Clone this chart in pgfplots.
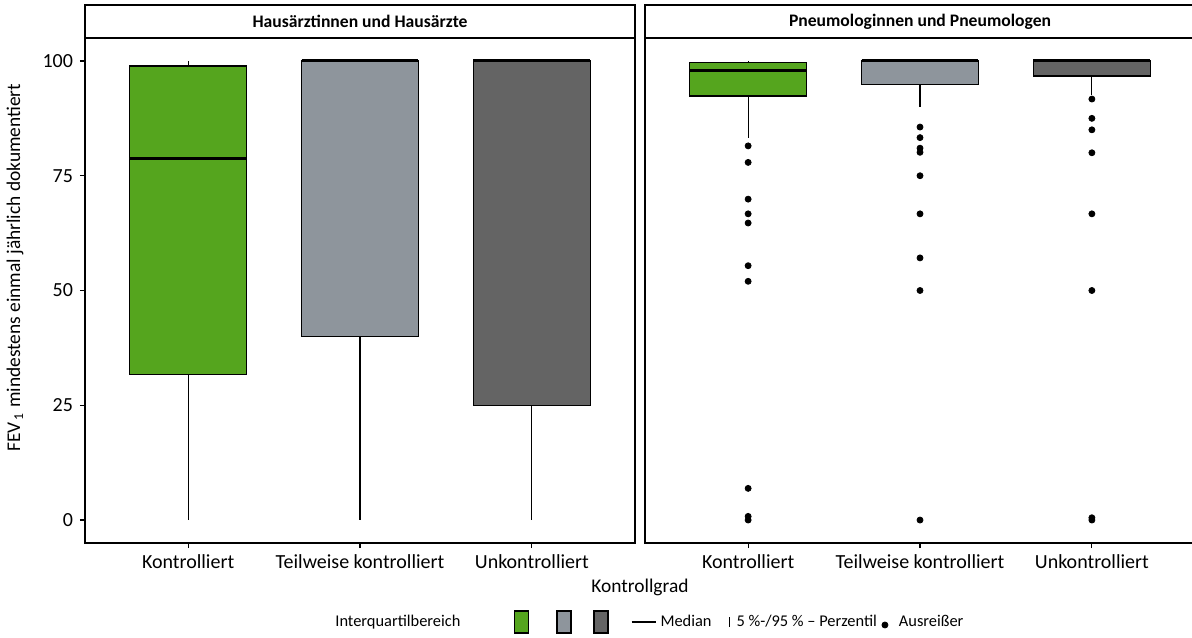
\documentclass[border=0pt]{standalone}
\usepackage{fontspec}
\setmainfont{Carlito}
\usepackage{pgfplots}
\pgfplotsset{compat=1.18}
\usepgfplotslibrary{statistics}
\definecolor{cgreen}{RGB}{85,165,30}
\definecolor{cgrey}{RGB}{142,149,156}
\definecolor{cdark}{RGB}{100,100,100}

\pgfplotsset{
 panel/.style={
  scale only axis, width=275pt, height=252.5pt,
  xmin=0.4, xmax=3.6, ymin=-5, ymax=105,
  xtick={1,2,3}, xticklabels={Kontrolliert, Teilweise kontrolliert, Unkontrolliert},
  ytick={0,25,50,75,100},
  tick pos=left, tick align=outside, major tick length=2.5pt,
  tick style={line width=0.6pt, black},
  axis line style={line width=0.9pt},
  ticklabel style={font=\fontsize{10}{11}\selectfont},
  /pgf/number format/assume math mode=true,
  clip=false,
  boxplot/draw direction=y,
  boxplot/box extend=0.68,
  boxplot/whisker extend=0,
  boxplot/every box/.style={draw=black, line width=0.7pt},
  boxplot/every whisker/.style={line width=0.6pt},
  boxplot/every median/.style={line width=1.5pt},
 },
 outl/.style={mark=*, mark size=1.5pt, mark options={fill=black, draw=black, solid}},
}

\begin{document}
\begin{tikzpicture}
\useasboundingbox (0,0) rectangle (596pt,318.5pt);

% ---------- left panel ----------
\begin{axis}[panel, at={(42.5pt,47pt)}, anchor=south west,
  ylabel={FEV\textsubscript{\,1} mindestens einmal jährlich dokumentiert},
  ylabel style={at={(rel axis cs:-0.127,0.545)}, anchor=center, font=\fontsize{9.7}{10}\selectfont},
  xlabel={Kontrollgrad},
  xlabel style={at={(rel axis cs:1.009,-0.087)}, anchor=center, font=\fontsize{9.7}{10}\selectfont},
  legend columns=-1,
  legend style={at={(axis description cs:0.4545,-0.1564)}, anchor=west, draw=none, fill=none,
    inner sep=0pt, column sep=0pt, font=\fontsize{8.2}{9}\selectfont,
    nodes={inner xsep=0pt, inner ysep=1pt}},
]
\addlegendimage{legend image code/.code={}}
\addlegendentry{Interquartilbereich}
\addlegendimage{legend image code/.code={\path[draw=none,fill=none] (0pt,-5.5pt) rectangle (34pt,5.5pt);
   \draw[fill=cgreen, line width=0.7pt] (27pt,-5.5pt) rectangle (34pt,5.5pt);}}
\addlegendentry{}
\addlegendimage{legend image code/.code={\path[draw=none,fill=none] (0pt,-5.5pt) rectangle (20pt,5.5pt);
   \draw[fill=cgrey, line width=0.7pt] (13pt,-5.5pt) rectangle (20pt,5.5pt);}}
\addlegendentry{}
\addlegendimage{legend image code/.code={\path[draw=none,fill=none] (0pt,-5.5pt) rectangle (17pt,5.5pt);
   \draw[fill=cdark, line width=0.7pt] (10pt,-5.5pt) rectangle (17pt,5.5pt);}}
\addlegendentry{}
\addlegendimage{legend image code/.code={\path[draw=none,fill=none] (0pt,-2pt) rectangle (25pt,2pt);
   \draw[line width=0.9pt] (10.5pt,0pt) -- (22.5pt,0pt);}}
\addlegendentry{Median}
\addlegendimage{legend image code/.code={\path[draw=none,fill=none] (0pt,-2.5pt) rectangle (12.5pt,2.5pt);
   \draw[line width=0.6pt] (9pt,-2.5pt) -- (9pt,2.5pt);}}
\addlegendentry{5 \%-/95 \% – Perzentil}
\addlegendimage{legend image code/.code={\path[draw=none,fill=none] (0pt,-2pt) rectangle (11pt,2pt);
   \fill (4pt,-1.5pt) circle (1.5pt);}}
\addlegendentry{Ausreißer}

\addplot[forget plot, boxplot prepared={draw position=1, lower whisker=0, lower quartile=31.7,
  median=78.7, upper quartile=98.9, upper whisker=100}, fill=cgreen, draw=black, outl] coordinates {};
\addplot[forget plot, boxplot prepared={draw position=2, lower whisker=0, lower quartile=40,
  median=100, upper quartile=100, upper whisker=100}, fill=cgrey, draw=black, outl] coordinates {};
\addplot[forget plot, boxplot prepared={draw position=3, lower whisker=0, lower quartile=25,
  median=100, upper quartile=100, upper whisker=100}, fill=cdark, draw=black, outl] coordinates {};

\draw[line width=0.9pt, fill=white] (rel axis cs:0,1) rectangle (rel axis cs:1,1.0653);
\node[font=\bfseries\fontsize{8.8}{9}\selectfont] at (rel axis cs:0.5,1.0327) {Hausärztinnen und Hausärzte};
\end{axis}

% ---------- right panel ----------
\begin{axis}[panel, at={(322.5pt,47pt)}, anchor=south west,
  yticklabels={}, y tick style={draw=none}]
\addplot[forget plot, boxplot prepared={draw position=1, lower whisker=83.3, lower quartile=92.4,
  median=98, upper quartile=99.6, upper whisker=100}, fill=cgreen, draw=black, outl]
  table[row sep=\\, y index=0] {y\\ 81.5\\ 77.9\\ 69.9\\ 66.7\\ 64.7\\ 55.4\\ 52.0\\ 6.9\\ 0.8\\ 0\\};
\addplot[forget plot, boxplot prepared={draw position=2, lower whisker=90, lower quartile=94.9,
  median=100, upper quartile=100, upper whisker=100}, fill=cgrey, draw=black, outl]
  table[row sep=\\, y index=0] {y\\ 85.6\\ 83.3\\ 81.0\\ 80.1\\ 75.0\\ 66.7\\ 57.1\\ 50.0\\ 0\\};
\addplot[forget plot, boxplot prepared={draw position=3, lower whisker=92.5, lower quartile=96.7,
  median=100, upper quartile=100, upper whisker=100}, fill=cdark, draw=black, outl]
  table[row sep=\\, y index=0] {y\\ 91.7\\ 87.5\\ 85.0\\ 80.0\\ 66.7\\ 50.0\\ 0.5\\ 0\\};

\draw[line width=0.9pt, fill=white] (rel axis cs:0,1) rectangle (rel axis cs:1,1.0653);
\node[font=\bfseries\fontsize{8.8}{9}\selectfont] at (rel axis cs:0.5,1.0327) {Pneumologinnen und Pneumologen};
\end{axis}
\end{tikzpicture}
\end{document}
